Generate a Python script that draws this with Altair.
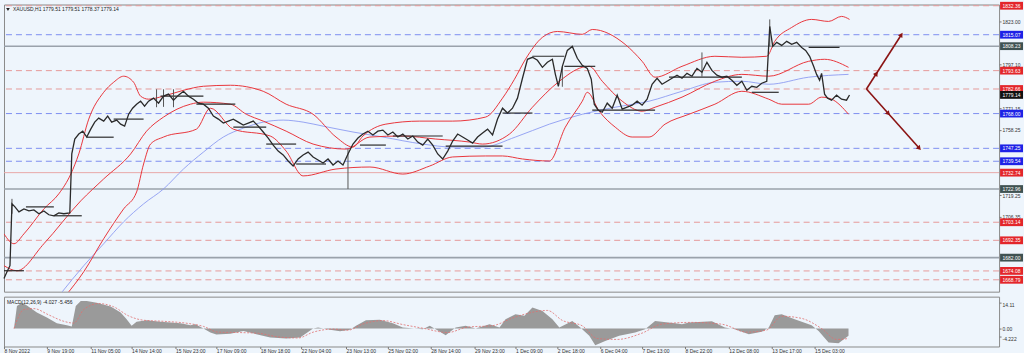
import altair as alt
import pandas as pd

W = 998
H_MAIN = 288
H_MACD = 50
BG = "#eef5fc"
FONT = "Liberation Sans"

title_main = "XAUUSD,H1  1779.51 1779.51 1778.37 1779.14"
title_macd = "MACD(12,26,9) -4.027 -5.456"

# ---- price path (bar position, close) ----
bar_x = [0, 3, 6, 8, 11, 15, 20, 25, 30, 35,
         40, 45, 50, 55, 60, 66, 68, 71, 75, 79,
         83, 87, 91, 95, 100, 104, 108, 113, 117, 121,
         125, 129, 133, 137, 141, 145, 150, 155, 160, 165,
         170, 175, 180, 185, 190, 195, 200, 205, 210, 215,
         220, 225, 230, 235, 240, 245, 250, 255, 260, 265,
         270, 275, 280, 285, 290, 295, 300, 305, 310, 315,
         320, 325, 330, 335, 340, 345, 350, 355, 360, 365,
         370, 375, 380, 385, 390, 395, 400, 405, 410, 415,
         420, 425, 430, 435, 440, 445, 450, 455, 460, 465,
         470, 475, 480, 485, 490, 495, 500, 505, 510, 515,
         520, 525, 530, 535, 540, 545, 550, 553, 556, 560,
         565, 570, 575, 580, 585, 589, 592, 596, 600, 605,
         610, 615, 620, 625, 630, 635, 640, 645, 650, 655,
         660, 665, 670, 675, 680, 685, 690, 695, 700, 705,
         710, 715, 720, 725, 730, 735, 740, 745, 750, 755,
         760, 765, 768, 771, 775, 780, 785, 790, 795, 800,
         804, 808, 812, 815, 818, 820, 823, 826, 830, 835,
         840, 845, 848]
close = [1669.5, 1673.6, 1677.2, 1714.1, 1712.3, 1709.3, 1711.1, 1709.9, 1710.5, 1708.2,
         1709.9, 1707.6, 1707.0, 1708.7, 1708.2, 1708.7, 1743.9, 1752.8, 1755.8, 1757.5,
         1754.0, 1758.7, 1762.9, 1765.3, 1763.5, 1766.5, 1762.9, 1764.1, 1761.7, 1760.5,
         1767.6, 1771.2, 1773.6, 1775.4, 1772.4, 1775.4, 1777.2, 1774.2, 1778.4, 1779.6,
         1776.0, 1779.0, 1781.3, 1778.4, 1776.6, 1774.2, 1773.6, 1771.2, 1766.5, 1764.7,
         1762.3, 1763.5, 1764.7, 1762.9, 1761.1, 1762.3, 1763.5, 1760.5, 1757.0, 1753.4,
         1749.2, 1745.6, 1743.3, 1739.7, 1736.7, 1740.9, 1743.3, 1745.0, 1742.1, 1740.3,
         1738.5, 1740.9, 1737.3, 1739.7, 1737.3, 1743.9, 1749.8, 1753.4, 1755.8, 1757.5,
         1755.2, 1757.5, 1758.1, 1755.2, 1757.0, 1754.0, 1755.8, 1752.8, 1754.6, 1751.0,
         1749.2, 1752.8, 1749.2, 1743.9, 1740.9, 1745.6, 1751.6, 1755.8, 1754.0, 1752.2,
         1750.4, 1754.0, 1756.4, 1758.7, 1755.2, 1764.7, 1771.2, 1768.3, 1771.2, 1777.2,
         1789.1, 1800.4, 1801.6, 1799.8, 1795.6, 1798.6, 1800.4, 1791.4, 1784.3, 1796.2,
         1805.7, 1808.1, 1801.0, 1796.8, 1795.0, 1788.5, 1773.6, 1770.0, 1768.8, 1774.2,
         1771.2, 1779.0, 1770.6, 1771.8, 1773.0, 1775.4, 1773.0, 1776.6, 1785.5, 1789.1,
         1785.5, 1787.3, 1789.1, 1790.9, 1789.1, 1792.0, 1790.3, 1795.0, 1792.6, 1798.6,
         1793.8, 1790.9, 1789.7, 1790.3, 1787.9, 1784.9, 1787.3, 1781.9, 1784.3, 1783.7,
         1786.1, 1787.3, 1820.0, 1808.1, 1810.5, 1808.7, 1811.1, 1809.3, 1810.5, 1807.5,
         1805.7, 1802.2, 1796.2, 1791.4, 1787.9, 1792.0, 1779.6, 1777.2, 1776.0, 1779.0,
         1776.6, 1776.0, 1779.1]

wick_x = [8, 153, 160, 170, 345, 560, 700, 768]
wick_low = [1708.2, 1771.8, 1772.0, 1771.8, 1723.0, 1784.0, 1790.0, 1808.1]
wick_high = [1717.1, 1782.5, 1782.5, 1782.5, 1746.8, 1796.0, 1804.5, 1824.2]

# ---- short horizontal black segments ----
seg_x0 = [0, 22, 50, 83, 110, 157, 193, 230, 263, 293, 357, 390, 443, 500, 530, 562, 590, 667, 750, 807]
seg_x1 = [20, 50, 78, 110, 140, 200, 232, 263, 293, 323, 383, 440, 500, 530, 562, 593, 653, 740, 777, 838]
seg_price = [1674.2, 1712.3, 1707.0, 1753.9, 1764.7, 1778.4, 1773.6, 1759.9, 1749.8, 1737.9,
             1749.2, 1754.6, 1748.6, 1768.3, 1802.2, 1796.2, 1770.0, 1789.7, 1780.7, 1807.5]

# ---- envelope bands (red) ----
up_x = [0, 10, 20, 40, 55, 67, 75, 85, 100, 110,
        120, 130, 137, 145, 160, 180, 200, 227, 260, 283,
        310, 333, 350, 360, 383, 417, 450, 483, 500, 512,
        523, 540, 555, 580, 590, 623, 640, 653, 680, 713,
        740, 765, 773, 790, 810, 827, 840, 848]
up_p = [1696.2, 1690.3, 1696.2, 1711.1, 1720.1, 1731.9, 1743.9, 1764.7, 1780.7, 1786.7,
        1790.3, 1786.7, 1778.4, 1776.6, 1778.4, 1781.9, 1784.3, 1784.9, 1781.3, 1773.6,
        1767.6, 1754.0, 1748.0, 1754.6, 1761.7, 1763.5, 1763.5, 1765.9, 1777.2, 1788.5,
        1800.4, 1813.5, 1817.0, 1815.3, 1818.2, 1809.3, 1799.2, 1789.7, 1796.2, 1802.2,
        1801.6, 1802.2, 1811.1, 1819.4, 1824.2, 1823.0, 1826.0, 1824.2]

mid_x = [0, 13, 40, 77, 100, 127, 143, 160, 187, 200,
         227, 243, 260, 283, 310, 343, 367, 400, 433, 467,
         480, 507, 530, 557, 580, 587, 600, 620, 640, 653,
         680, 713, 740, 767, 807, 823, 847]
mid_p = [1677.2, 1674.2, 1690.3, 1715.9, 1729.0, 1743.9, 1757.5, 1765.9, 1773.6, 1774.8,
         1773.6, 1767.6, 1763.5, 1757.5, 1749.8, 1746.8, 1754.0, 1754.6, 1752.8, 1751.0,
         1749.8, 1755.8, 1771.8, 1787.3, 1795.6, 1796.2, 1787.3, 1775.4, 1769.4, 1771.8,
         1777.8, 1787.3, 1791.4, 1790.3, 1799.2, 1800.4, 1795.6]

lo_x = [62, 80, 100, 120, 133, 140, 147, 160, 193, 207,
        230, 267, 283, 300, 333, 367, 400, 427, 450, 483,
        500, 520, 547, 563, 580, 585, 597, 613, 630, 647,
        663, 687, 713, 740, 767, 780, 807, 820, 830, 847]
lo_p = [1659.4, 1673.6, 1693.3, 1711.1, 1721.2, 1737.9, 1749.8, 1754.0, 1758.7, 1771.2,
        1758.7, 1754.6, 1745.6, 1730.8, 1734.9, 1736.1, 1731.9, 1736.7, 1742.1, 1742.7,
        1742.7, 1740.9, 1739.7, 1759.9, 1775.4, 1780.7, 1769.4, 1759.9, 1754.0, 1754.0,
        1761.7, 1767.6, 1773.6, 1781.3, 1776.6, 1773.6, 1773.6, 1777.8, 1776.6, 1767.6]

# ---- slow moving average (blue) ----
ma_x = [57, 80, 100, 120, 140, 160, 180, 200, 220, 240,
        260, 280, 300, 320, 350, 380, 420, 450, 480, 513,
        547, 580, 613, 647, 680, 713, 740, 767, 807, 847]
ma_p = [1660.6, 1677.2, 1690.3, 1703.4, 1714.1, 1723.0, 1734.9, 1745.0, 1754.0, 1759.3,
        1762.9, 1764.1, 1762.9, 1760.5, 1757.0, 1754.0, 1749.8, 1748.0, 1748.0, 1754.0,
        1761.7, 1767.6, 1771.8, 1775.4, 1781.3, 1786.7, 1787.3, 1785.5, 1789.7, 1791.4]

# ---- horizontal levels ----
level_price = [1832.36, 1815.07, 1808.23, 1793.63, 1782.66, 1779.14, 1768.00, 1747.25,
               1739.54, 1732.74, 1722.96, 1703.14, 1692.35, 1682.00, 1674.08, 1668.79]
level_kind = ["red", "blue", "gray", "red", "red", "bid", "blue", "blue",
              "blue", "redsolid", "gray", "red", "red", "gray", "red", "red"]
axis_ticks = [1823.00, 1797.10, 1771.15, 1758.25, 1719.25, 1706.35]

# ---- arrows ----
arrow_id = ["up", "up", "down", "down"]
arrow_x = [865, 900, 865, 918]
arrow_p = [1782.66, 1815.07, 1782.66, 1747.25]
head_x = [875, 900, 887, 918]
head_p = [1791.9, 1815.07, 1767.96, 1747.25]
head_angle = [33, 33, 138, 138]

# ---- MACD ----
macd_x = [10, 13, 18, 23, 33, 43, 53, 63, 68, 72,
          77, 83, 93, 107, 117, 123, 128, 133, 143, 157,
          167, 177, 187, 192, 200, 207, 213, 227, 240, 253,
          267, 283, 297, 310, 315, 327, 337, 347, 353, 363,
          377, 390, 400, 420, 427, 433, 443, 453, 463, 473,
          487, 497, 503, 513, 522, 530, 540, 550, 557, 570,
          578, 587, 593, 603, 617, 633, 643, 653, 673, 680,
          687, 710, 723, 733, 747, 760, 767, 773, 780, 793,
          810, 817, 827, 837, 847]
macd_h = [0, 12.5, 14.3, 12.7, 8.8, 6.1, 2.9, 1.8, 1.1, 12.5,
          15.2, 15.2, 14.3, 12.1, 8.8, 5.1, 1.5, 3.7, 4.6, 3.7,
          3.3, 2.9, 1.8, 2.4, 0, -2.2, -3.3, -2.8, -1.3, -3.1,
          -5.0, -5.5, -5.0, 0, 0.6, -0.7, -1.5, -0.7, 1.5, 4.6,
          4.8, 2.9, 0.6, -0.4, 1.5, -0.4, -3.7, 0.6, 1.5, 0,
          2.4, 0.6, 5.1, 7.9, 7.0, 11.6, 9.7, 5.1, 0.6, 4.2,
          0.6, -4.0, -9.2, -6.8, -4.0, -2.2, -0.4, 4.2, 2.9, 2.4,
          3.3, 4.0, 0.6, -0.4, -3.1, -1.8, 0.6, 7.3, 7.9, 5.1,
          1.8, -1.3, -7.7, -8.1, -4.0]
sig_x = [10, 20, 30, 45, 60, 70, 80, 95, 110, 125,
         140, 160, 185, 200, 215, 235, 255, 275, 295, 310,
         330, 345, 360, 380, 400, 420, 445, 465, 490, 510,
         530, 545, 560, 580, 595, 615, 640, 660, 690, 720,
         745, 765, 780, 800, 820, 835, 847]
sig_v = [0, 10.5, 11.0, 7.5, 4.0, 3.0, 10.5, 13.8, 12.0, 7.0,
         4.6, 4.0, 2.8, 1.2, -2.0, -2.2, -2.6, -4.6, -5.2, -2.0,
         -0.3, -0.9, 2.5, 4.4, 2.2, 0.2, -2.2, 0.8, 1.6, 5.8,
         9.0, 10.0, 4.5, 1.5, -5.5, -6.0, -2.5, 2.5, 3.4, 2.4,
         -2.0, -0.8, 6.8, 5.6, 0.0, -6.0, -5.5]
macd_ticks = [14.11, 0.0, -4.222]

time_pos = [0, 43, 87, 128, 172, 213, 257, 298, 343, 385,
            428, 472, 513, 555, 598, 640, 683, 727, 770, 813]
time_text = ["8 Nov 2022", "9 Nov 19:00", "11 Nov 05:00", "14 Nov 14:00", "15 Nov 23:00",
             "17 Nov 09:00", "18 Nov 18:00", "22 Nov 04:00", "23 Nov 13:00", "25 Nov 02:00",
             "28 Nov 14:00", "29 Nov 23:00", "1 Dec 09:00", "2 Dec 18:00", "6 Dec 04:00",
             "7 Dec 13:00", "8 Dec 22:00", "12 Dec 08:00", "13 Dec 17:00", "15 Dec 03:00"]

# ================= build =================
box_colors = {"red": "#e3262b", "redsolid": "#e3262b", "blue": "#1e22e6",
              "gray": "#3f5252", "bid": "#111111"}

price_df = pd.DataFrame({"x": bar_x, "p": close})
wick_df = pd.DataFrame({"x": wick_x, "lo": wick_low, "hi": wick_high})
seg_df = pd.DataFrame({"x": seg_x0, "x1": seg_x1, "p": seg_price})
up_df = pd.DataFrame({"x": up_x, "p": up_p})
mid_df = pd.DataFrame({"x": mid_x, "p": mid_p})
lo_df = pd.DataFrame({"x": lo_x, "p": lo_p})
ma_df = pd.DataFrame({"x": ma_x, "p": ma_p})
lvl = pd.DataFrame({"p": level_price, "kind": level_kind})
lvl["label"] = [f"{v:.2f}" for v in level_price]
lvl["box"] = lvl["kind"].map(box_colors)
arrow_df = pd.DataFrame({"id": arrow_id, "x": arrow_x, "p": arrow_p})
head_df = pd.DataFrame({"x": head_x, "p": head_p, "angle": head_angle})
macd_df = pd.DataFrame({"x": macd_x, "h": macd_h})
sig_df = pd.DataFrame({"x": sig_x, "v": sig_v})

xs = alt.Scale(domain=[0, W], nice=False, zero=False)
ys = alt.Scale(domain=[1661.7, 1833.1], nice=False, zero=False)
yaxis = alt.Axis(orient="right", values=axis_ticks, format=".2f", labelFontSize=5,
                 labelColor="#333", tickSize=2, tickColor="#777", labelPadding=1,
                 domain=False, grid=False, title=None, labelOverlap=False, labelFont=FONT)

X = alt.X("x:Q", scale=xs, axis=None)


def Y(field):
    return alt.Y(field, type="quantitative", scale=ys, axis=yaxis)


layers = []
styles = {
    "red": dict(color="#e69a9a", strokeDash=[6, 4], strokeWidth=1),
    "blue": dict(color="#7d8ef0", strokeDash=[6, 4], strokeWidth=1),
    "gray": dict(color="#9aa2ab", strokeWidth=1.6),
    "redsolid": dict(color="#e8a8a8", strokeWidth=1),
}
for kind, st in styles.items():
    layers.append(alt.Chart(lvl[lvl["kind"] == kind]).mark_rule(**st).encode(y=Y("p")))

layers.append(alt.Chart(ma_df).mark_line(color="#8d9cf2", strokeWidth=0.9, clip=True,
                                         interpolate="monotone").encode(x=X, y=Y("p")))
for df in (up_df, mid_df, lo_df):
    layers.append(alt.Chart(df).mark_line(color="#e8363c", strokeWidth=1, clip=True,
                                          interpolate="monotone").encode(x=X, y=Y("p")))

layers.append(alt.Chart(seg_df).mark_rule(color="#2b2b2b", strokeWidth=1.2).encode(
    x=X, x2="x1:Q", y=Y("p")))
layers.append(alt.Chart(wick_df).mark_rule(color="#555", strokeWidth=1).encode(
    x=X, y=Y("lo"), y2="hi:Q"))
layers.append(alt.Chart(price_df).mark_line(color="#2a2a2a", strokeWidth=1.3).encode(x=X, y=Y("p")))

layers.append(alt.Chart(arrow_df).mark_line(color="#8b1414", strokeWidth=1.6).encode(
    x=X, y=Y("p"), detail="id:N"))
layers.append(alt.Chart(head_df).mark_point(shape="triangle-up", filled=True, size=28,
                                            color="#8b1414", opacity=1).encode(
    x=X, y=Y("p"), angle=alt.Angle("angle:Q", scale=None)))

box_shape = "M-1,-0.34L1,-0.34L1,0.34L-1,0.34Z"
layers.append(alt.Chart(lvl).mark_point(shape=box_shape, filled=True, size=529, opacity=1,
                                        strokeWidth=0).encode(
    x=alt.value(W + 12.5), y=Y("p"), color=alt.Color("box:N", scale=None)))
layers.append(alt.Chart(lvl).mark_text(fontSize=5, color="white", font=FONT, align="center",
                                       baseline="middle").encode(
    x=alt.value(W + 12.5), y=Y("p"), text="label:N"))

title_df = pd.DataFrame({"t": [title_main]})
layers.append(alt.Chart(title_df).mark_point(shape="triangle-down", filled=True, size=14,
                                             color="#222", opacity=1).encode(
    x=alt.value(4), y=alt.value(5)))
layers.append(alt.Chart(title_df).mark_text(fontSize=5, color="#222", font=FONT, align="left",
                                            baseline="middle").encode(
    x=alt.value(9), y=alt.value(5), text="t:N"))

main = alt.layer(*layers).properties(width=W, height=H_MAIN)

# ---- MACD panel ----
ysm = alt.Scale(domain=[-9.9, 17.6], nice=False, zero=False)
yaxis_m = alt.Axis(orient="right", values=macd_ticks, labelFontSize=5, labelColor="#333",
                   tickSize=2, tickColor="#777", labelPadding=1, domain=False, grid=False,
                   title=None, labelOverlap=False, labelFont=FONT,
                   labelExpr="datum.value == 0 ? '0.00' : toString(datum.value)",
                   labelBaseline={"condition": {"test": "datum.value == 0", "value": "middle"},
                                  "value": "top"})
idx = "[" + ",".join(str(v) for v in time_pos) + "]"
txt = "[" + ",".join("'" + t + "'" for t in time_text) + "]"
xaxis_m = alt.Axis(values=time_pos, labelExpr=f"{txt}[indexof({idx}, datum.value)]",
                   labelFontSize=5, labelColor="#333", labelAlign="left", tickSize=2,
                   tickColor="#777", labelPadding=0, domain=False, grid=False, title=None,
                   labelOverlap=False, labelFlush=False, labelFont=FONT)
XM = alt.X("x:Q", scale=xs, axis=xaxis_m)


def YM(field):
    return alt.Y(field, type="quantitative", scale=ysm, axis=yaxis_m)


macd_area = alt.Chart(macd_df).mark_area(color="#9a9a9a", opacity=1, interpolate="linear").encode(
    x=XM, y=alt.Y("h:Q", scale=ysm, axis=yaxis_m, stack=None), y2=alt.datum(0))
macd_sig = alt.Chart(sig_df).mark_line(color="#e07070", strokeWidth=0.8, strokeDash=[2, 1.5],
                                       interpolate="monotone").encode(x=XM, y=YM("v"))
macd_title = alt.Chart(pd.DataFrame({"t": [title_macd]})).mark_text(
    fontSize=5, color="#222", font=FONT, align="left", baseline="middle").encode(
    x=alt.value(3), y=alt.value(5), text="t:N")

macd = alt.layer(macd_area, macd_sig, macd_title).properties(width=W, height=H_MACD)

chart = alt.vconcat(main, macd, spacing=3, background=BG,
                    padding={"left": 0, "top": 0, "right": 0, "bottom": 0}).configure_view(
    stroke="#8a8a8a", strokeWidth=1, fill=BG)

chart.save("out.html", embed_options={"renderer": "svg", "actions": False})
